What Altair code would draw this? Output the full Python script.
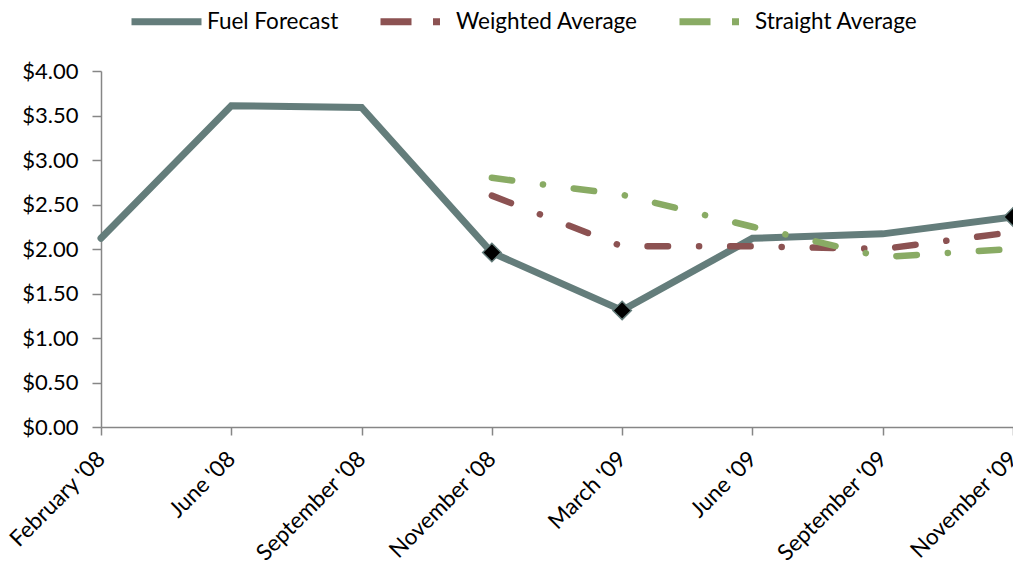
import altair as alt
import pandas as pd

# Category axis (forecast months)
months = ["February '08", "June '08", "September '08", "November '08",
          "March '09", "June '09", "September '09", "November '09"]

# Series values, $ per gallon (None = no value for that month)
fuel_forecast = [2.12, 3.61, 3.59, 1.96, 1.31, 2.12, 2.17, 2.36]
weighted_average = [None, None, None, 2.60, 2.03, 2.03, 2.00, 2.19]
straight_average = [None, None, None, 2.80, 2.61, 2.25, 1.91, 2.00]

# Months where the forecast line carries a diamond marker
marked_months = ["November '08", "March '09", "November '09"]

series_names = ["Fuel Forecast", "Weighted Average", "Straight Average"]
series_colors = ["#647d7b", "#8c5252", "#89ab64"]
series_widths = [7, 6.5, 6.5]
# dash patterns of the plotted lines (round caps turn the 0.1 segment into a dot)
line_dashes = [None, [20.5, 31, 0.1, 31], [20.5, 31, 0.1, 31]]
# dash patterns of the legend swatches (butt caps, so the dot gets a real length)
legend_dashes = [[1, 0], [31, 21.5, 7, 40], [31, 21.5, 7, 40]]
y_ticks = [0, 0.5, 1, 1.5, 2, 2.5, 3, 3.5, 4]

FONT = "Lato"
AXIS_GREY = "#868686"

rows = []
for name, values in zip(series_names, [fuel_forecast, weighted_average, straight_average]):
    for order, (m, v) in enumerate(zip(months, values)):
        if v is not None:
            rows.append({"month": m, "order": order, "series": name, "value": v})
df = pd.DataFrame(rows)
markers = df[(df["series"] == "Fuel Forecast") & (df["month"].isin(marked_months))]

x_enc = alt.X(
    "month:N",
    sort=months,
    scale=alt.Scale(type="point", padding=0),
    axis=alt.Axis(
        title=None, labelAngle=-45, labelAlign="right", labelBaseline="middle",
        labelFont=FONT, labelFontSize=22.5, labelColor="#000000", labelPadding=20,
        tickSize=8, tickColor=AXIS_GREY, domainColor=AXIS_GREY, domainWidth=1.5,
        tickWidth=1.5, labelOverlap=False,
    ),
)
y_enc = alt.Y(
    "value:Q",
    scale=alt.Scale(domain=[0, 4], nice=False, zero=True),
    axis=alt.Axis(
        title=None, values=y_ticks, format="$.2f", grid=False,
        labelFont=FONT, labelFontSize=22, labelColor="#000000", labelPadding=14,
        tickSize=9, tickColor=AXIS_GREY, domainColor=AXIS_GREY, domainWidth=1.5,
        tickWidth=1.5,
    ),
)

# One line layer per series
series_layers = []
for name, color, width, dash in zip(series_names, series_colors, series_widths, line_dashes):
    mark_kwargs = dict(color=color, strokeWidth=width, strokeCap="round", strokeJoin="miter")
    if dash is not None:
        mark_kwargs["strokeDash"] = dash
    series_layers.append(
        alt.Chart(df[df["series"] == name]).mark_line(**mark_kwargs).encode(
            x=x_enc, y=y_enc, order=alt.Order("order:Q"),
        )
    )

legend_props = dict(
    orient="none", legendX=27, legendY=-88, direction="horizontal",
    title=None, symbolType="stroke", symbolSize=4900, symbolStrokeWidth=7,
    labelFont=FONT, labelFontSize=22.5, labelColor="#000000", labelLimit=0,
    labelOffset=2, columnPadding=27,
)

# Legend-bearing layer: a single point per series, so its paths draw nothing
legend_rows = df.groupby("series", as_index=False).last()
legend_layer = alt.Chart(legend_rows).mark_line().encode(
    x=alt.X("month:N", sort=months),
    y="value:Q",
    color=alt.Color(
        "series:N",
        scale=alt.Scale(domain=series_names, range=series_colors),
        legend=alt.Legend(**legend_props),
    ),
    strokeDash=alt.StrokeDash(
        "series:N",
        scale=alt.Scale(domain=series_names, range=legend_dashes),
        legend=alt.Legend(**legend_props),
    ),
)

diamonds = alt.Chart(markers).mark_point(
    shape="diamond", filled=True, fill="#000000", stroke="#647d7b",
    strokeWidth=1.5, size=340, opacity=1,
).encode(x=alt.X("month:N", sort=months), y="value:Q")

chart = alt.layer(*series_layers, legend_layer, diamonds).properties(
    width=912,
    height=356,
    autosize="none",
    padding={"left": 101, "top": 71, "right": 0, "bottom": 144},
    background="#ffffff",
).configure_view(stroke=None)

chart.save("out.html", embed_options={"renderer": "svg", "actions": False})
